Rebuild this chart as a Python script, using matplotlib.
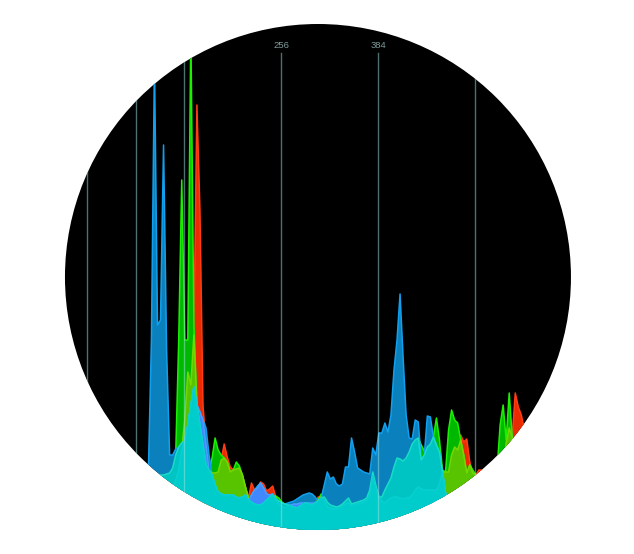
import numpy as np
import matplotlib
matplotlib.use('Agg')
import matplotlib.pyplot as plt
from matplotlib.patches import Ellipse

# histogram bins (every 4th level) and counts per channel
levels = list(range(73, 585, 4))

red = [0, 0, 0, 0, 5, 10, 20, 25, 30, 35,
       40, 50, 60, 80, 110, 158, 145, 195, 425, 320,
       125, 85, 60, 57, 57, 58, 70, 86, 73, 63,
       60, 61, 62, 55, 43, 32, 47, 40, 42, 48,
       46, 39, 41, 44, 33, 26, 24, 22, 25, 25,
       26, 26, 27, 27, 27, 27, 27, 27, 33, 33,
       31, 23, 22, 21, 21, 22, 24, 26, 27, 24,
       25, 26, 27, 28, 30, 35, 54, 42, 33, 29,
       27, 30, 32, 33, 33, 32, 31, 32, 32, 35,
       40, 43, 41, 40, 40, 40, 40, 40, 46, 58,
       58, 58, 75, 83, 80, 95, 88, 91, 68, 57,
       55, 60, 60, 55, 40, 20, 20, 20, 30, 50,
       87, 102, 93, 137, 123, 115, 100, 80]

green = [0, 5, 10, 20, 25, 40, 55, 55, 56, 57,
         62, 75, 190, 350, 190, 190, 500, 205, 125, 105,
         85, 65, 60, 72, 92, 80, 75, 72, 68, 58,
         60, 68, 64, 55, 43, 32, 28, 26, 25, 25,
         27, 30, 33, 35, 34, 32, 28, 26, 25, 24,
         23, 22, 24, 26, 27, 26, 25, 27, 30, 36,
         33, 28, 25, 24, 23, 24, 26, 29, 32, 26,
         27, 28, 29, 30, 32, 40, 58, 45, 33, 33,
         40, 46, 52, 63, 72, 71, 69, 72, 78, 86,
         90, 92, 85, 79, 83, 86, 93, 112, 90, 60,
         58, 100, 120, 110, 107, 90, 75, 57, 65, 60,
         55, 40, 25, 20, 20, 20, 20, 60, 105, 125,
         90, 137, 93, 60, 40, 30, 20, 20]

blue = [0, 30, 60, 190, 470, 205, 210, 385, 180, 75,
        75, 81, 83, 87, 90, 105, 125, 143, 125, 118,
        110, 102, 75, 55, 45, 38, 36, 35, 35, 35,
        35, 33, 32, 33, 35, 30, 35, 40, 44, 47,
        42, 36, 35, 36, 31, 29, 27, 26, 27, 28,
        29, 31, 33, 35, 36, 37, 36, 33, 29, 32,
        45, 58, 51, 53, 46, 44, 46, 63, 63, 92,
        78, 62, 60, 58, 57, 56, 82, 75, 97, 97,
        107, 98, 115, 160, 190, 236, 173, 115, 92, 91,
        110, 108, 70, 75, 114, 113, 93, 85, 78, 58,
        37, 25, 20, 20, 20, 20, 20, 20, 20, 20,
        20, 20, 20, 20, 20, 20, 20, 20, 20, 20,
        20, 20, 20, 20, 20, 20, 20, 20]

grid_levels = [0, 64, 128, 256, 384, 512]
label_levels = [256, 384]

x = np.array(levels)
r = np.array(red)
g = np.array(green)
b = np.array(blue)

fig = plt.figure(figsize=(6.34, 5.54), dpi=100, facecolor='white')
ax = fig.add_axes([0, 0, 1, 1])
ax.set_xlim(-87 / 0.758, (634 - 87) / 0.758)
ax.set_ylim(-24, 530)
ax.axis('off')

disc = Ellipse((304.7, 253), 506 / 0.758, 506, facecolor='black', edgecolor='none', zorder=0)
ax.add_patch(disc)


def layer(values, fill, stroke, z):
    band = ax.fill_between(x, -24, values, facecolor=fill, edgecolor='none', zorder=z)
    line, = ax.plot(x, values, color=stroke, lw=1.1, zorder=z + 0.5)
    band.set_clip_path(disc)
    line.set_clip_path(disc)


layer(r, '#ea2a00', '#ff3c14', 1)
layer(g, '#00b800', '#1cf000', 2)
layer(b, '#0a80bc', '#12a0ee', 3)
layer(np.minimum(r, g), '#58c400', '#72d800', 4)
layer(np.minimum(r, b), '#4088ff', '#4c9cff', 5)
layer(np.minimum(g, b), '#00c4c4', '#18dcc8', 6)
layer(np.minimum(np.minimum(r, g), b), '#00cccc', '#08d0d0', 7)

for lev in grid_levels:
    ln = ax.axvline(lev, color='#9ce0e0', alpha=0.5, lw=1.0, zorder=9)
    ln.set_ydata([-24, 477])
    ln.set_transform(ax.transData)
    ln.set_clip_path(disc)

for lev in label_levels:
    ax.text(lev, 485, str(lev), color='#7f9c9c', fontsize=6.8, ha='center', va='center',
            family='Liberation Sans', zorder=10)

fig.savefig('out.png', dpi=100, facecolor='white')
